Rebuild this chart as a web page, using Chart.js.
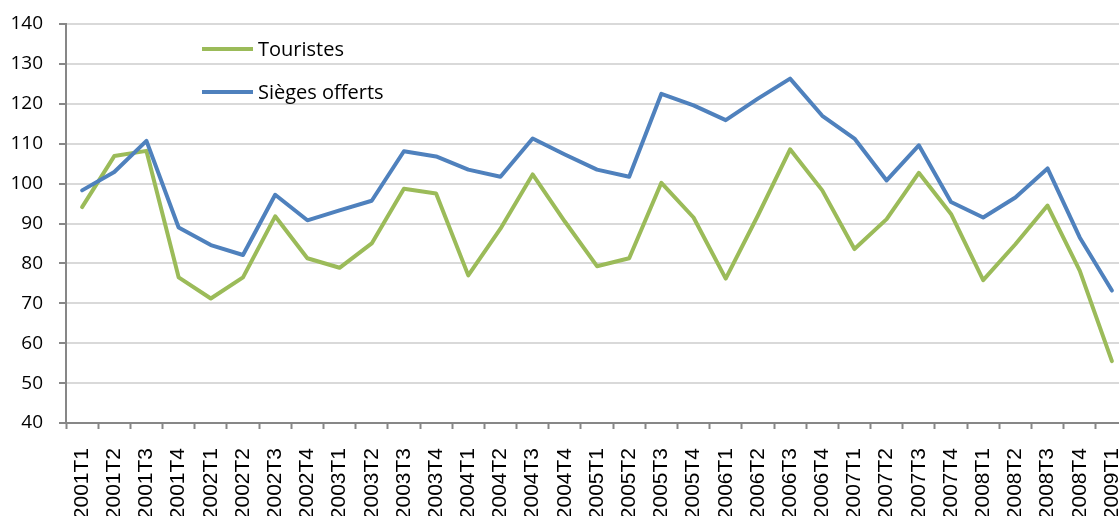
<!DOCTYPE html>
<html>
<head>
<meta charset="utf-8">
<script src="https://cdn.jsdelivr.net/npm/chart.js@4/dist/chart.umd.min.js"></script>
<style>
  html, body { margin: 0; padding: 0; background: #fff; overflow: hidden; }
  #wrap { width: 1119px; height: 516px; overflow: hidden; }
</style>
</head>
<body>
<div id="wrap"><canvas id="plot" width="1128" height="530"></canvas></div>
<script>
// quarters 2001T1 .. 2009T1
const quarters = [
  "2001T1", "2001T2", "2001T3", "2001T4",
  "2002T1", "2002T2", "2002T3", "2002T4",
  "2003T1", "2003T2", "2003T3", "2003T4",
  "2004T1", "2004T2", "2004T3", "2004T4",
  "2005T1", "2005T2", "2005T3", "2005T4",
  "2006T1", "2006T2", "2006T3", "2006T4",
  "2007T1", "2007T2", "2007T3", "2007T4",
  "2008T1", "2008T2", "2008T3", "2008T4",
  "2009T1"
];
const touristes = [
  94.1, 106.9, 108.2, 76.5, 71.2, 76.5, 91.8, 81.3, 78.9, 85.0, 98.7,
  97.5, 77.0, 88.7, 102.3, 90.5, 79.3, 81.3, 100.2, 91.5, 76.2, 92.0,
  108.6, 98.3, 83.6, 91.1, 102.7, 92.4, 75.8, 84.8, 94.5, 78.2, 55.5
];
const siegesOfferts = [
  98.3, 102.9, 110.7, 89.0, 84.6, 82.1, 97.2, 90.8, 93.3, 95.7, 108.1,
  106.8, 103.5, 101.7, 111.3, 107.3, 103.5, 101.7, 122.5, 119.6, 115.9, 121.3,
  126.3, 117.0, 111.3, 100.8, 109.6, 95.4, 91.5, 96.5, 103.8, 86.5, 73.2
];
const yTicks = { min: 40, max: 140, step: 10 };

const axisGray = "#878787";
const gridGray = "#d9d9d9";

// legend drawn inside the plot area, like the original
const innerLegend = {
  id: "innerLegend",
  afterDraw(chart, args, opts) {
    const ctx = chart.ctx;
    const a = chart.chartArea;
    ctx.save();
    ctx.font = opts.font;
    ctx.textBaseline = "middle";
    ctx.lineCap = "butt";
    chart.data.datasets.forEach((ds, i) => {
      const y = a.top + opts.top + i * opts.rowGap;
      const x = a.left + opts.left;
      ctx.strokeStyle = ds.borderColor;
      ctx.lineWidth = ds.borderWidth;
      ctx.beginPath();
      ctx.moveTo(x, y);
      ctx.lineTo(x + opts.lineLen, y);
      ctx.stroke();
      ctx.fillStyle = "#000";
      ctx.fillText(ds.label, x + opts.lineLen + 5, y + 1);
    });
    ctx.restore();
  }
};

new Chart(document.getElementById("plot"), {
  type: "line",
  data: {
    labels: quarters,
    datasets: [
      {
        label: "Touristes",
        data: touristes,
        borderColor: "#9bbb59",
        backgroundColor: "#9bbb59",
        borderWidth: 4,
        order: 1
      },
      {
        label: "Sièges offerts",
        data: siegesOfferts,
        borderColor: "#4f81bd",
        backgroundColor: "#4f81bd",
        borderWidth: 4,
        order: 0
      }
    ]
  },
  plugins: [innerLegend],
  options: {
    responsive: false,
    animation: false,
    layout: { padding: { top: 24, right: 0, left: 0, bottom: 0 } },
    elements: {
      point: { radius: 0 },
      line: { tension: 0, fill: false, borderJoinStyle: "round", borderCapStyle: "round" }
    },
    plugins: {
      legend: { display: false },
      tooltip: { enabled: false },
      innerLegend: {
        font: "20px 'Open Sans', 'DejaVu Sans', sans-serif",
        left: 136,
        top: 25,
        rowGap: 43,
        lineLen: 51
      }
    },
    scales: {
      x: {
        offset: true,
        grid: {
          offset: true,
          drawOnChartArea: false,
          drawTicks: true,
          tickLength: 6,
          tickColor: axisGray,
          tickWidth: 2
        },
        border: { display: true, color: axisGray, width: 2 },
        ticks: {
          autoSkip: false,
          maxRotation: 90,
          minRotation: 90,
          padding: 19,
          color: "#000",
          font: { family: "'Liberation Sans', Arial, sans-serif", size: 21 }
        },
        afterFit(scale) {
          scale.height = 107;
          scale.paddingLeft = 0;
          scale.paddingRight = 0;
        }
      },
      y: {
        min: yTicks.min,
        max: yTicks.max,
        grid: {
          color: gridGray,
          lineWidth: 2,
          tickLength: 7,
          tickColor: axisGray,
          tickWidth: 2
        },
        border: { display: true, color: axisGray, width: 2 },
        ticks: {
          stepSize: yTicks.step,
          padding: 16,
          color: "#000",
          font: { family: "'Open Sans', 'DejaVu Sans', sans-serif", size: 19 }
        },
        afterFit(scale) {
          scale.width = 66;
          scale.paddingTop = 0;
          scale.paddingBottom = 0;
        }
      }
    }
  }
});
</script>
</body>
</html>
